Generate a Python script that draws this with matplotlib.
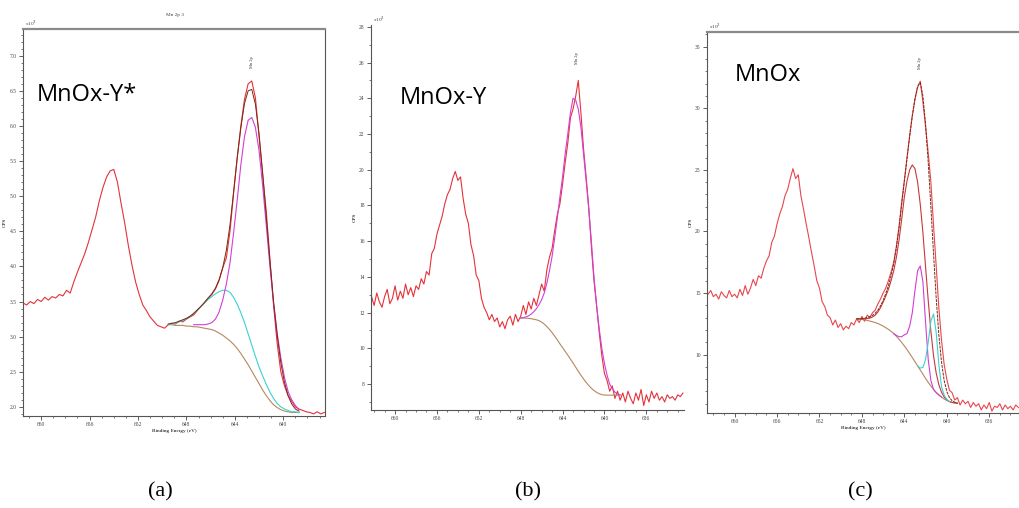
import numpy as np
import matplotlib
matplotlib.use("Agg")
import matplotlib.pyplot as plt
from matplotlib.ticker import MultipleLocator, FormatStrFormatter

# ---------------------------------------------------------------------------
# Mn 2p spectra, three samples. Energies on a regular grid (eV), counts typed.
# ---------------------------------------------------------------------------

# (a) MnOx-Y*  (x10^3 CPS), grid 661.5 -> 636.6 step 0.3
a_energy = np.round(661.5 - 0.3 * np.arange(84), 2)
a_counts = [
    3.48, 3.45, 3.50, 3.47, 3.53, 3.50, 3.56, 3.52, 3.57, 3.55,
    3.60, 3.58, 3.66, 3.62, 3.78, 3.92, 4.05, 4.18, 4.34, 4.52,
    4.70, 4.93, 5.12, 5.27, 5.36, 5.38, 5.20, 4.90, 4.62, 4.30,
    4.02, 3.78, 3.60, 3.45, 3.37, 3.28, 3.22, 3.16, 3.14, 3.12,
    3.17, 3.19, 3.18, 3.22, 3.21, 3.25, 3.28, 3.31, 3.37, 3.43,
    3.48, 3.55, 3.60, 3.68, 3.80, 3.98, 4.12, 4.50, 5.05, 5.55,
    6.00, 6.38, 6.60, 6.64, 6.40, 5.85, 5.30, 4.78, 4.10, 3.45,
    2.90, 2.50, 2.30, 2.16, 2.08, 2.00, 1.97, 1.95, 1.93, 1.92,
    1.90, 1.93, 1.90, 1.92,
]
# fit window 649.5 -> 638.7
a_fit_energy = np.round(649.5 - 0.3 * np.arange(37), 2)
a_background = [
    3.17, 3.17, 3.16, 3.16, 3.16, 3.15, 3.15, 3.14, 3.14, 3.13,
    3.12, 3.11, 3.10, 3.08, 3.05, 3.02, 2.98, 2.94, 2.89, 2.83,
    2.76, 2.68, 2.60, 2.51, 2.42, 2.33, 2.24, 2.16, 2.09, 2.03,
    1.99, 1.96, 1.94, 1.93, 1.92, 1.92, 1.92,
]
a_peak_cyan = [
    3.17, 3.18, 3.19, 3.21, 3.23, 3.26, 3.29, 3.33, 3.38, 3.43,
    3.48, 3.53, 3.57, 3.61, 3.64, 3.66, 3.66, 3.63, 3.56, 3.46,
    3.34, 3.20, 3.04, 2.88, 2.72, 2.57, 2.44, 2.32, 2.21, 2.12,
    2.05, 2.00, 1.97, 1.95, 1.93, 1.93, 1.92,
]
a_envelope = [
    3.18, 3.19, 3.20, 3.22, 3.24, 3.26, 3.29, 3.33, 3.38, 3.43,
    3.49, 3.55, 3.61, 3.69, 3.81, 3.98, 4.23, 4.59, 5.06, 5.55,
    5.98, 6.32, 6.50, 6.52, 6.31, 5.89, 5.33, 4.70, 4.08, 3.50,
    3.02, 2.63, 2.35, 2.16, 2.04, 1.97, 1.94,
]
# magenta component starts a little later: 647.4 -> 638.7
a_mag_energy = np.round(647.4 - 0.3 * np.arange(30), 2)
a_peak_magenta = [
    3.17, 3.17, 3.17, 3.17, 3.18, 3.20, 3.25, 3.35, 3.52, 3.75,
    4.05, 4.48, 4.95, 5.45, 5.85, 6.08, 6.12, 5.98, 5.65, 5.15,
    4.58, 4.00, 3.48, 3.05, 2.70, 2.42, 2.22, 2.10, 2.02, 1.96,
]

# (b) MnOx-Y  (x10^2 CPS), grid 662.25 -> 632.5 step 0.25
b_energy = np.round(662.25 - 0.25 * np.arange(120), 2)
b_counts = [
    12.9, 12.4, 13.1, 12.6, 12.3, 12.9, 13.3, 12.5, 12.8, 13.5,
    12.7, 13.2, 12.8, 13.6, 13.0, 13.4, 12.9, 13.5, 13.3, 13.9,
    13.6, 14.3, 14.1, 15.3, 15.6, 16.4, 16.9, 17.4, 18.1, 18.6,
    18.9, 19.5, 19.9, 19.4, 19.6, 18.4, 17.5, 17.0, 15.8, 15.2,
    14.1, 13.8, 12.8, 12.3, 12.0, 11.6, 11.9, 11.5, 11.7, 11.2,
    11.5, 11.1, 11.6, 11.8, 11.3, 11.9, 11.5, 11.8, 12.4, 11.9,
    12.6, 12.2, 12.8, 12.4, 13.0, 13.6, 13.2, 14.4, 15.1, 15.6,
    16.6, 17.5, 18.1, 19.2, 20.4, 21.5, 22.9, 23.4, 24.1, 25.0,
    23.2, 21.2, 19.6, 17.9, 15.7, 13.8, 12.4, 10.9, 9.6, 8.6,
    8.2, 7.6, 7.9, 7.2, 7.6, 7.1, 7.5, 7.0, 7.6, 7.2,
    6.9, 7.5, 7.1, 7.7, 6.8, 7.4, 7.0, 7.6, 7.2, 7.5,
    7.1, 7.3, 7.0, 7.4, 7.2, 7.3, 7.1, 7.4, 7.3, 7.5,
]
b_fit_energy = np.round(648.0 - 0.25 * np.arange(39), 2)
b_background = [
    11.70, 11.70, 11.69, 11.68, 11.66, 11.63, 11.60, 11.55, 11.47, 11.36,
    11.22, 11.06, 10.88, 10.68, 10.47, 10.25, 10.04, 9.83, 9.62, 9.40,
    9.18, 8.95, 8.72, 8.50, 8.29, 8.10, 7.92, 7.77, 7.64, 7.54,
    7.46, 7.41, 7.39, 7.38, 7.38, 7.38, 7.38, 7.38, 7.38,
]
b_peak_magenta = [
    11.70, 11.72, 11.76, 11.82, 11.92, 12.05, 12.22, 12.45, 12.72, 13.10,
    13.65, 14.35, 15.15, 16.20, 17.30, 18.50, 19.60, 20.90, 22.00, 23.20,
    24.00, 23.90, 23.40, 22.40, 20.90, 19.40, 17.80, 16.00, 14.00, 12.40,
    11.10, 10.00, 9.15, 8.50, 8.00, 7.75, 7.55, 7.45, 7.40,
]

# (c) MnOx  (x10^2 CPS), grid 662.5 -> 633.25 step 0.25
c_energy = np.round(662.5 - 0.25 * np.arange(118), 2)
c_counts = [
    14.9, 15.2, 14.7, 14.9, 14.5, 15.1, 14.8, 14.6, 15.2, 14.7,
    14.9, 14.6, 15.3, 14.8, 15.6, 14.9, 15.4, 16.1, 15.6, 16.4,
    16.2, 17.0, 17.6, 18.0, 19.1, 19.6, 20.6, 21.4, 22.0, 22.9,
    23.4, 24.3, 25.1, 24.3, 24.6, 22.9, 21.8, 20.6, 19.5, 18.3,
    17.2, 16.0, 15.4, 14.3, 13.9, 13.2, 13.0, 12.4, 12.8, 12.2,
    12.5, 12.0, 12.3, 12.1, 12.6, 12.4, 12.9, 12.6, 13.1, 12.7,
    13.2, 13.0, 13.4, 13.6, 14.1, 14.5, 15.0, 15.4, 16.0, 16.7,
    17.5, 18.8, 20.4, 22.4, 24.1, 26.0, 27.8, 29.4, 30.7, 31.7,
    32.2, 30.5, 28.5, 26.4, 24.0, 20.5, 17.2, 13.8, 11.2, 9.2,
    8.0, 7.1, 6.9, 6.3, 6.5, 5.9, 6.3, 6.0, 6.2, 5.7,
    6.1, 5.8, 6.0, 5.5, 5.9, 5.6, 6.1, 5.4, 5.8, 5.7,
    6.0, 5.5, 5.9, 5.6, 5.8, 5.5, 5.9, 5.7,
]
c_fit_energy = np.round(648.5 - 0.25 * np.arange(39), 2)
c_background = [
    12.90, 12.88, 12.85, 12.81, 12.77, 12.72, 12.66, 12.60, 12.52, 12.42,
    12.31, 12.18, 12.04, 11.88, 11.70, 11.48, 11.24, 10.98, 10.70, 10.40,
    10.08, 9.75, 9.42, 9.08, 8.74, 8.40, 8.06, 7.74, 7.44, 7.17,
    6.93, 6.72, 6.54, 6.39, 6.27, 6.18, 6.12, 6.08, 6.05,
]
c_peak_broad = [
    12.90, 12.90, 12.90, 12.90, 12.92, 12.96, 13.05, 13.20, 13.45, 13.80,
    14.25, 14.75, 15.30, 16.00, 16.80, 17.90, 19.30, 21.00, 22.80, 24.10,
    25.00, 25.40, 25.10, 24.00, 22.20, 19.90, 17.10, 14.40, 11.90, 9.90,
    8.50, 7.55, 6.95, 6.55, 6.32, 6.18, 6.10, 6.07, 6.05,
]
c_envelope = [
    12.90, 12.90, 12.92, 12.95, 13.00, 13.07, 13.18, 13.35, 13.60, 13.95,
    14.40, 14.95, 15.60, 16.40, 17.40, 18.70, 20.30, 22.20, 24.10, 25.90,
    27.70, 29.40, 30.80, 31.80, 32.10, 31.00, 28.70, 25.60, 22.00, 18.20,
    14.60, 11.60, 9.40, 7.90, 7.00, 6.50, 6.25, 6.12, 6.05,
]
c_mag_energy = np.round(645.0 - 0.25 * np.arange(19), 2)
c_peak_magenta = [
    11.70, 11.55, 11.45, 11.45, 11.60, 11.70, 12.30, 13.40, 15.20, 16.80,
    17.20, 15.90, 12.60, 9.60, 7.90, 7.15, 6.90, 6.72, 6.54,
]
c_cyan_energy = np.round(642.75 - 0.25 * np.arange(13), 2)
c_peak_cyan = [
    9.08, 8.90, 8.95, 9.60, 11.00, 12.70, 13.30, 11.80, 9.20, 7.40,
    6.70, 6.35, 6.18,
]

RED = "#e4323a"
MAGENTA = "#d23fd6"
CYAN = "#3fd0d0"
BROWN = "#b5875f"
ENVELOPE = "#7a2a12"

W, H = 1020, 508
fig = plt.figure(figsize=(W / 100, H / 100), dpi=100)


def px_axes(left, top, right, bottom):
    return fig.add_axes([left / W, 1 - bottom / H, (right - left) / W, (bottom - top) / H])


def style_axes(ax, xlim, ylim, ymajor, yminor, yfmt, exp_text, spines):
    ax.set_xlim(*xlim)
    ax.set_ylim(*ylim)
    ax.xaxis.set_major_locator(MultipleLocator(4))
    ax.xaxis.set_minor_locator(MultipleLocator(1))
    ax.yaxis.set_major_locator(MultipleLocator(ymajor))
    ax.yaxis.set_minor_locator(MultipleLocator(yminor))
    ax.yaxis.set_major_formatter(FormatStrFormatter(yfmt))
    ax.xaxis.set_major_formatter(FormatStrFormatter("%d"))
    ax.tick_params(which="major", length=3, width=0.6, labelsize=4, colors="#444444", pad=1.5)
    ax.tick_params(which="minor", length=1.6, width=0.5, colors="#444444")
    for lbl in ax.get_xticklabels() + ax.get_yticklabels():
        lbl.set_family("Liberation Serif")
    for side, sp in ax.spines.items():
        sp.set_visible(side in spines)
        sp.set_color("#555555")
        sp.set_linewidth(0.8)
    if "top" in spines:
        ax.spines["top"].set_color("#8a8a8a")
        ax.spines["top"].set_linewidth(1.6)
    ax.text(0.005, 1.003, exp_text, transform=ax.transAxes, fontsize=3.8,
            family="Liberation Serif", color="#444444", va="bottom", ha="left")


def peak_tag(ax, x, y):
    ax.text(x, y, "Mn 2p", rotation=90, fontsize=3.2, family="Liberation Serif",
            ha="center", va="bottom", color="#333333")


# ----- (a) -----
ax_a = px_axes(23, 29, 325, 416)
style_axes(ax_a, (661.5, 636.55), (1.87, 7.38), 0.5, 0.1, "%.1f", r"x10$^3$",
           ("left", "bottom", "top", "right"))
ax_a.plot(a_energy, a_counts, color=RED, lw=0.8)
ax_a.plot(a_fit_energy, a_background, color=BROWN, lw=0.8)
ax_a.plot(a_fit_energy, a_peak_cyan, color=CYAN, lw=0.8)
ax_a.plot(a_mag_energy, a_peak_magenta, color=MAGENTA, lw=0.8)
ax_a.plot(a_fit_energy, a_envelope, color=ENVELOPE, lw=0.7)
peak_tag(ax_a, 642.6, 6.83)
ax_a.set_ylabel("CPS", fontsize=3.8, family="Liberation Serif", labelpad=2)
ax_a.set_xlabel("Binding Energy (eV)", fontsize=3.8, family="Liberation Serif", labelpad=1)
ax_a.text(0.046, 0.829, "MnOx-Y*", transform=ax_a.transAxes, fontsize=17,
          family="Open Sans", va="center", ha="left")
fig.text(175 / W, 1 - 15 / H, "Mn 2p 3", fontsize=3.8, family="Liberation Serif",
         ha="center", va="center", color="#444444")

# ----- (b) -----
ax_b = px_axes(371, 25, 684, 410)
style_axes(ax_b, (662.3, 632.4), (6.55, 28.1), 2, 1, "%d", r"x10$^2$",
           ("left", "bottom"))
ax_b.plot(b_energy, b_counts, color=RED, lw=0.8)
ax_b.plot(b_fit_energy, b_background, color=BROWN, lw=0.8)
ax_b.plot(b_fit_energy, b_peak_magenta, color=MAGENTA, lw=0.8)
peak_tag(ax_b, 642.6, 25.9)
ax_b.set_ylabel("CPS", fontsize=3.8, family="Liberation Serif", labelpad=2)
ax_b.text(0.093, 0.81, "MnOx-Y", transform=ax_b.transAxes, fontsize=17,
          family="Open Sans", va="center", ha="left")

# ----- (c) -----
ax_c = px_axes(707, 32, 1020, 413)
style_axes(ax_c, (662.6, 633.1), (5.25, 36.2), 5, 1, "%d", r"x10$^2$",
           ("left", "bottom", "top"))
ax_c.plot(c_energy, c_counts, color=RED, lw=0.8, alpha=0.9)
ax_c.plot(c_fit_energy, c_background, color=BROWN, lw=0.8)
ax_c.plot(c_fit_energy, c_peak_broad, color="#c8383a", lw=0.8)
ax_c.plot(c_mag_energy, c_peak_magenta, color=MAGENTA, lw=0.8)
ax_c.plot(c_cyan_energy, c_peak_cyan, color=CYAN, lw=0.8)
ax_c.plot(c_fit_energy, c_envelope, color=ENVELOPE, lw=0.7, ls=(0, (3, 1)))
peak_tag(ax_c, 642.5, 33.2)
ax_c.set_ylabel("CPS", fontsize=3.8, family="Liberation Serif", labelpad=2)
ax_c.set_xlabel("Binding Energy (eV)", fontsize=3.8, family="Liberation Serif", labelpad=1)
ax_c.text(0.089, 0.887, "MnOx", transform=ax_c.transAxes, fontsize=17,
          family="Open Sans", va="center", ha="left")

# panel letters
for x, lbl in [(160, "(a)"), (528, "(b)"), (860, "(c)")]:
    fig.text(x / W, 1 - 492 / H, lbl, fontsize=16, family="Liberation Serif",
             ha="center", va="center")

fig.savefig("out.png", dpi=100)
